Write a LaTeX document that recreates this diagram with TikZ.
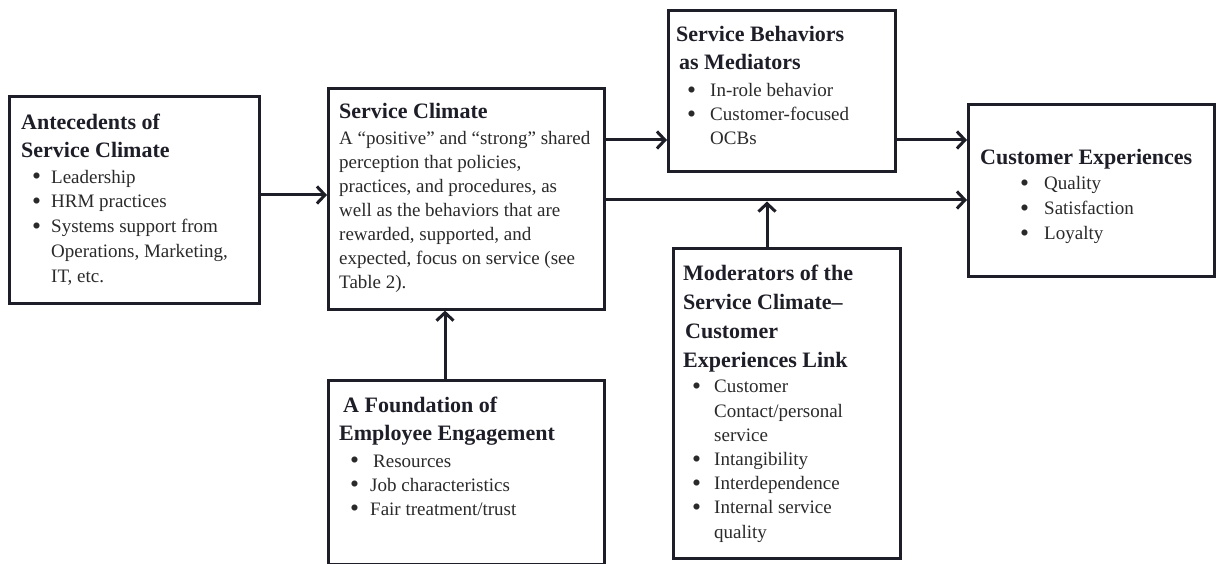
\documentclass[tikz,border=0pt]{standalone}
\usepackage{fontspec}
\usepackage{graphicx}
\setmainfont{Liberation Serif}
\usetikzlibrary{arrows.meta}

\definecolor{ink}{HTML}{1E1E28}
\definecolor{txt}{HTML}{2A2A2A}

% heading and body type, with their line spacing
\newcommand{\headfont}[1]{\fontsize{22}{#1}\selectfont\bfseries}
\newcommand{\bodyfont}[1]{\fontsize{19}{#1}\selectfont}
% bullet followed by a fixed gap before the item text
\newcommand{\bul}[1]{\makebox[#1][l]{\raisebox{-0.1em}{\scalebox{1.35}{\textbullet}}}}

\begin{document}
\begin{tikzpicture}[x=1pt,y=-1pt,
  box/.style={draw=ink,line width=2.6pt,inner sep=0pt,anchor=north west},
  % text blocks are placed by the baseline of their last line
  head/.style={anchor=base west,inner sep=0pt,align=left,text=ink},
  body/.style={anchor=base west,inner sep=0pt,align=left,text=txt},
  arr/.style={draw=ink,line width=3pt,-{Straight Barb[length=8pt,width=17pt]}}]

\clip (0,0) rectangle (1216,564);
\fill[white] (0,0) rectangle (1216,564);

% ---- boxes ----
\node[box,minimum width=250pt,minimum height=207pt] (ant) at (8,95) {};
\node[box,minimum width=276pt,minimum height=221pt] (sc) at (327,87) {};
\node[box,minimum width=227pt,minimum height=161pt] (sb) at (667,9) {};
\node[box,minimum width=246pt,minimum height=172pt] (ce) at (967,103) {};
\node[box,minimum width=276pt,minimum height=184pt] (fo) at (327,379) {};
\node[box,minimum width=227pt,minimum height=310pt] (mod) at (672,247) {};

% ---- antecedents ----
\node[head,font=\headfont{28}] (antT) at (21,158) {Antecedents of\\Service Climate};
\node[body,font=\bodyfont{25}] (antL) at (32,283)
  {\bul{19pt}Leadership\\
   \bul{19pt}HRM practices\\
   \bul{19pt}Systems support from\\
   \hspace*{19pt}Operations, Marketing,\\
   \hspace*{19pt}IT, etc.};

% ---- service climate ----
\node[head,font=\headfont{28}] (scT) at (339,119) {Service Climate};
\node[body,font=\bodyfont{24}] (scL) at (339,288)
  {A “positive” and “strong” shared\\
   perception that policies,\\
   practices, and procedures, as\\
   well as the behaviors that are\\
   rewarded, supported, and\\
   expected, focus on service (see\\
   Table 2).};

% ---- service behaviors ----
\node[head,font=\headfont{28}] (sbT) at (676,70) {Service Behaviors\\\hspace*{3pt}as Mediators};
\node[body,font=\bodyfont{24}] (sbL) at (687,145)
  {\bul{23pt}In-role behavior\\
   \bul{23pt}Customer-focused\\
   \hspace*{23pt}OCBs};

% ---- customer experiences ----
\node[head,font=\headfont{28}] (ceT) at (980,165) {Customer Experiences};
\node[body,font=\bodyfont{25}] (ceL) at (1020,240)
  {\bul{24pt}Quality\\
   \bul{24pt}Satisfaction\\
   \bul{24pt}Loyalty};

% ---- foundation ----
\node[head,font=\headfont{28}] (foT) at (339,440) {\hspace*{4pt}A Foundation of\\Employee Engagement};
\node[body,font=\bodyfont{24}] (foL) at (350,515)
  {\bul{23pt}Resources\\
   \bul{20pt}Job characteristics\\
   \bul{20pt}Fair treatment/trust};

% ---- moderators ----
\node[head,font=\headfont{29}] (modT) at (683,367)
  {Moderators of the\\Service Climate–\\\hspace*{2pt}Customer\\Experiences Link};
\node[body,font=\bodyfont{24.2}] (modL) at (692,538)
  {\bul{22pt}Customer\\
   \hspace*{22pt}Contact/personal\\
   \hspace*{22pt}service\\
   \bul{22pt}Intangibility\\
   \bul{22pt}Interdependence\\
   \bul{22pt}Internal service\\
   \hspace*{22pt}quality};

% ---- connectors ----
\coordinate (join) at (767,200);
\draw[arr] (ant.east |- 0,195) -- (sc.west |- 0,195);
\draw[arr] (sc.east |- 0,140) -- (sb.west |- 0,140);
\draw[arr] (sb.east |- 0,140) -- (ce.west |- 0,140);
\draw[arr] (sc.east |- 0,200) -- (ce.west |- 0,200);
\draw[arr] (mod.north -| join) -- ([yshift=-1.5pt]join);
\draw[arr] (fo.north -| 445,0) -- (sc.south -| 445,0);
\end{tikzpicture}
\end{document}
